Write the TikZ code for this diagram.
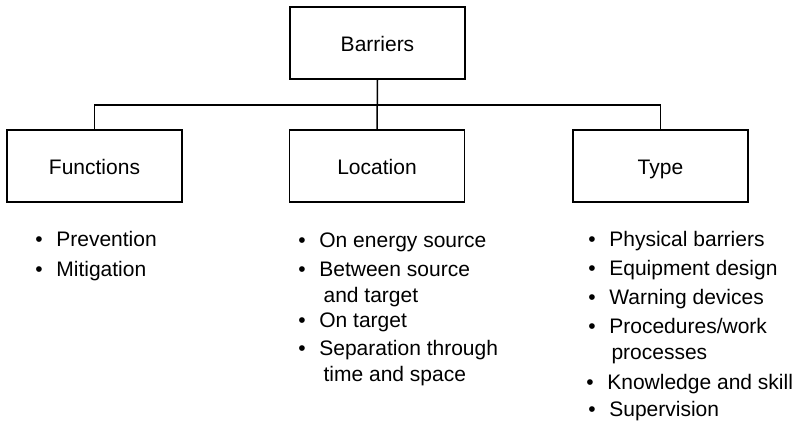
\documentclass[tikz,border=0pt]{standalone}
\usepackage{fontspec}
\setmainfont{Liberation Sans}
\tikzset{
  box/.style={draw, line width=0.75pt, minimum width=87.5pt, minimum height=36pt, inner sep=0pt, text height=1.6ex, text depth=0ex},
  item/.style={anchor=base west, inner sep=0pt, align=left},
  link/.style={line width=0.75pt}
}
\begin{document}
\begin{tikzpicture}[x=0.5pt, y=-0.5pt, font=\fontsize{10.5}{13}\selectfont]
\useasboundingbox (0,0) rectangle (799,424);
\node[box] (Barriers) at (377.5,43) {Barriers};
\node[box] (Functions) at (94.5,166) {Functions};
\node[box] (Location) at (377,166) {Location};
\node[box] (Type) at (660.5,166) {Type};
\coordinate (bus) at (0,105);
\draw[link] (Barriers.south) -- (Location.north);
\draw[link] (Functions.north) -- (Functions.north |- bus) -- (Type.north |- bus) -- (Type.north);
% functions
\node[item] (F_1) at (35,246.5) {\textbullet\hspace{0.65em}Prevention};
\node[item] (F_2) at (35,276.5) {\textbullet\hspace{0.65em}Mitigation};
% location (two-line items: base is the last line)
\node[item] (L_1) at (298,247.5) {\textbullet\hspace{0.65em}On energy source};
\node[item] (L_2) at (298,302.5) {\textbullet\hspace{0.65em}Between source\\\hspace*{1.2em}and target};
\node[item] (L_3) at (298,327.5) {\textbullet\hspace{0.65em}On target};
\node[item] (L_4) at (298,381.5) {\textbullet\hspace{0.65em}Separation through\\\hspace*{1.2em}time and space};
% type
\node[item] (T_1) at (588,246.5) {\textbullet\hspace{0.65em}Physical barriers};
\node[item] (T_2) at (588,275.5) {\textbullet\hspace{0.65em}Equipment design};
\node[item] (T_3) at (588,304.5) {\textbullet\hspace{0.65em}Warning devices};
\node[item] (T_4) at (588,359.5) {\textbullet\hspace{0.65em}Procedures/work\\\hspace*{1.1em}processes};
\node[item] (T_5) at (586,389.5) {\textbullet\hspace{0.65em}Knowledge and skill};
\node[item] (T_6) at (588,416.5) {\textbullet\hspace{0.65em}Supervision};
\end{tikzpicture}
\end{document}
